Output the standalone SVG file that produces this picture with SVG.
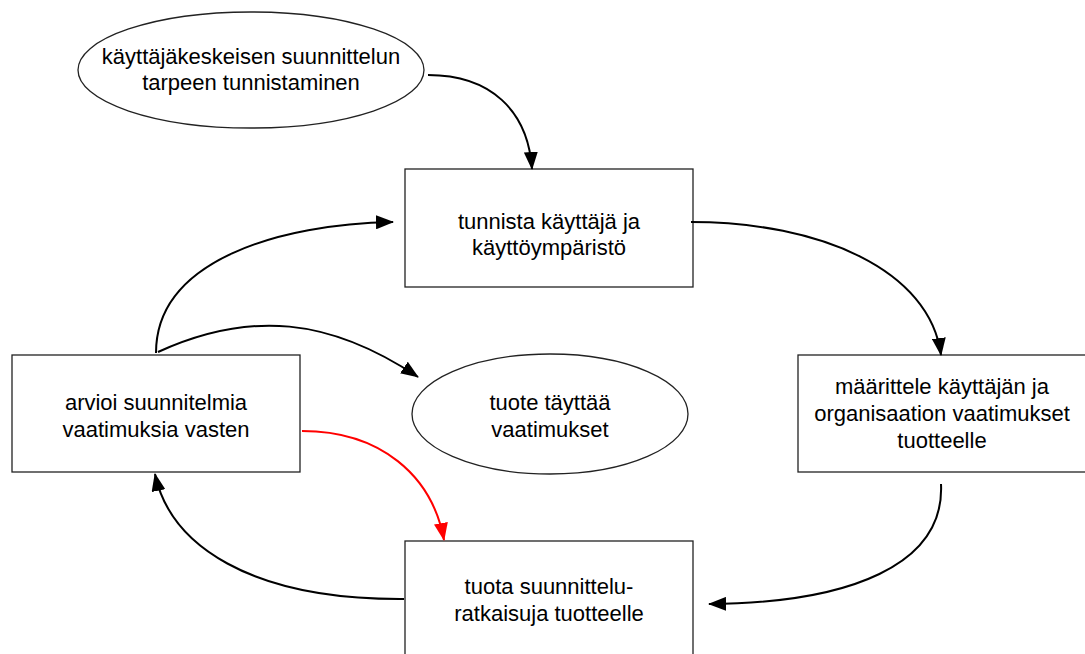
<svg xmlns="http://www.w3.org/2000/svg" width="1085" height="654" viewBox="0 0 1085 654">
<style>
.n{fill:#fff;stroke:#222;stroke-width:1.3}
.t{font-family:"Liberation Sans",Arial,sans-serif;font-size:22px;fill:#000;text-anchor:middle}
.c{fill:none;stroke:#000;stroke-width:2}
.r{fill:none;stroke:#f00;stroke-width:2}
</style>
<defs>
<marker id="ah" markerWidth="18" markerHeight="14" refX="17" refY="7" orient="auto" markerUnits="userSpaceOnUse"><path d="M0,0 L18,7 L0,14 Z" fill="#000"/></marker>
<marker id="ahr" markerWidth="18" markerHeight="14" refX="17" refY="7" orient="auto" markerUnits="userSpaceOnUse"><path d="M0,0 L18,7 L0,14 Z" fill="#f00"/></marker>
</defs>
<rect width="1085" height="654" fill="#fff"/>
<g id="start">
<ellipse class="n" cx="251" cy="70" rx="173" ry="58"/>
<text class="t" x="251" y="64">käyttäjäkeskeisen suunnittelun</text>
<text class="t" x="251" y="90">tarpeen tunnistaminen</text>
</g>
<g id="identify">
<rect class="n" x="405" y="169" width="288" height="118"/>
<text class="t" x="549" y="229">tunnista käyttäjä ja</text>
<text class="t" x="549" y="255">käyttöympäristö</text>
</g>
<g id="define">
<rect class="n" x="798" y="355" width="290" height="117"/>
<text class="t" x="942" y="394">määrittele käyttäjän ja</text>
<text class="t" x="942" y="421">organisaation vaatimukset</text>
<text class="t" x="942" y="448">tuotteelle</text>
</g>
<g id="evaluate">
<rect class="n" x="12" y="355" width="288" height="117"/>
<text class="t" x="156" y="410">arvioi suunnitelmia</text>
<text class="t" x="156" y="437">vaatimuksia vasten</text>
</g>
<g id="done">
<ellipse class="n" cx="550" cy="414" rx="138" ry="60"/>
<text class="t" x="550" y="410">tuote täyttää</text>
<text class="t" x="550" y="437">vaatimukset</text>
</g>
<g id="produce">
<rect class="n" x="405" y="541" width="288" height="130"/>
<text class="t" x="549" y="594">tuota suunnittelu-</text>
<text class="t" x="549" y="621">ratkaisuja tuotteelle</text>
</g>
<g id="connectors">
<path class="c" d="M428,75 C490,75 528,110 532,169" marker-end="url(#ah)"/>
<path class="c" d="M691,222 C820,222 930,270 941,355" marker-end="url(#ah)"/>
<path class="c" d="M941,484 C945,565 850,603 709,604" marker-end="url(#ah)"/>
<path class="c" d="M404,599 C250,600 170,545 155,474" marker-end="url(#ah)"/>
<path class="c" d="M156,353 C156,260 280,224 393,222" marker-end="url(#ah)"/>
<path class="c" d="M158,352 C250,310 330,318 418,377" marker-end="url(#ah)"/>
<path class="r" d="M302,431 C380,431 432,475 444,540" marker-end="url(#ahr)"/>
</g>
</svg>
